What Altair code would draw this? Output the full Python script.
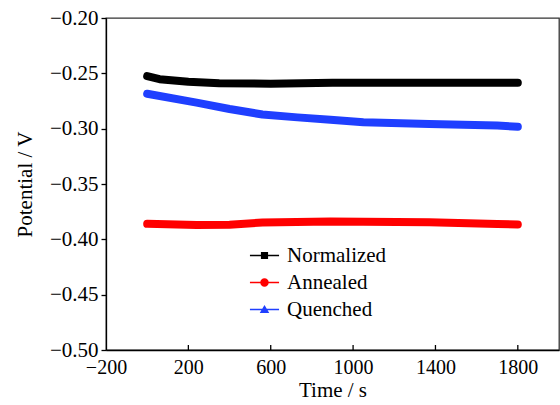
import altair as alt
import pandas as pd

# ---- data ----
series_names = ["Normalized", "Annealed", "Quenched"]
series_colors = ["#000000", "#ff0000", "#1f3fff"]

time_normalized = [0, 60, 200, 350, 600, 900, 1200, 1500, 1800]
pot_normalized = [-0.2525, -0.2553, -0.2577, -0.2590, -0.2594, -0.2584, -0.2585, -0.2585, -0.2586]

time_annealed = [0, 240, 400, 560, 890, 1370, 1700, 1800]
pot_annealed = [-0.3860, -0.3870, -0.3868, -0.3848, -0.3838, -0.3845, -0.3862, -0.3866]

time_quenched = [0, 240, 400, 560, 730, 890, 1050, 1370, 1700, 1800]
pot_quenched = [-0.2685, -0.2765, -0.2822, -0.2872, -0.2898, -0.2920, -0.2942, -0.2957, -0.2972, -0.2982]

x_label_values = [-200, 200, 600, 1000, 1400, 1800]
x_tick_marks = [200, 600, 1000, 1400, 1800]
y_tick_values = [-0.50, -0.45, -0.40, -0.35, -0.30, -0.25, -0.20]

series_data = [("Normalized", time_normalized, pot_normalized),
               ("Annealed", time_annealed, pot_annealed),
               ("Quenched", time_quenched, pot_quenched)]

frames = []
for name, ts, vs in series_data:
    frames.append(pd.DataFrame({"Time": ts, "Potential": vs, "Series": name}))
df = pd.concat(frames, ignore_index=True)
ticks_df = pd.DataFrame({"Time": x_tick_marks})

W, H = 453, 332
FONT = "Liberation Serif"

shape_paths = [
    "M-1.1,-0.05H1.1V0.05H-1.1Z M-0.27,-0.27H0.27V0.27H-0.27Z",
    "M-1.1,-0.05H1.1V0.05H-1.1Z M-0.32,0A0.32,0.32 0 1,1 0.32,0A0.32,0.32 0 1,1 -0.32,0Z",
    "M-1.1,-0.05H1.1V0.05H-1.1Z M0,-0.34L0.36,0.26L-0.36,0.26Z",
]

x_enc = alt.X("Time:Q",
              scale=alt.Scale(domain=[-200, 2000], nice=False),
              axis=alt.Axis(values=x_label_values, format="d", ticks=False,
                            labelFlush=False, labelPadding=7,
                            title="Time / s", titlePadding=2))
y_enc = alt.Y("Potential:Q",
              scale=alt.Scale(domain=[-0.50, -0.20], nice=False, zero=False),
              axis=alt.Axis(values=y_tick_values, format=".2f", tickSize=5,
                            labelFlush=False, labelPadding=3, labelFontSize=21,
                            title="Potential / V",
                            titleX=-81, titleY=H / 2, titleBaseline="middle",
                            titleAngle=270))

legend = alt.Legend(title=None, orient="none", legendX=145, legendY=224,
                    symbolSize=700, labelOffset=9, rowPadding=3, padding=0,
                    symbolStrokeWidth=0, labelFont=FONT, labelFontSize=21,
                    labelColor="black", symbolOpacity=1)

line_layers = []
for (name, _, _), col in zip(series_data, series_colors):
    line_layers.append(
        alt.Chart(df).transform_filter(alt.datum.Series == name)
        .mark_line(color=col, strokeWidth=8, strokeCap="round", strokeJoin="round")
        .encode(x=x_enc, y=y_enc)
    )

points = alt.Chart(df).mark_point(filled=True, size=4, opacity=1).encode(
    x=x_enc, y=y_enc,
    color=alt.Color("Series:N", scale=alt.Scale(domain=series_names, range=series_colors), legend=legend),
    shape=alt.Shape("Series:N", scale=alt.Scale(domain=series_names, range=shape_paths), legend=legend),
)

ticks = alt.Chart(ticks_df).mark_rule(color="black", strokeWidth=1.3).encode(
    x=x_enc, y=alt.value(H), y2=alt.value(H - 5)
)

chart = alt.layer(*line_layers, points, ticks).properties(
    width=W, height=H,
    autosize=alt.AutoSizeParams(type="none"),
    padding={"left": 106, "top": 18, "right": 1, "bottom": 55},
).configure_view(
    stroke="#333333", strokeWidth=1.3
).configure_axis(
    labelFont=FONT, labelFontSize=20, labelColor="black",
    titleFont=FONT, titleFontSize=21, titleFontWeight="normal", titleColor="black",
    domainColor="black", domainWidth=1.3, tickColor="black", tickWidth=1.3, grid=False,
)

chart.save("out.html", embed_options={"renderer": "svg", "actions": False})
